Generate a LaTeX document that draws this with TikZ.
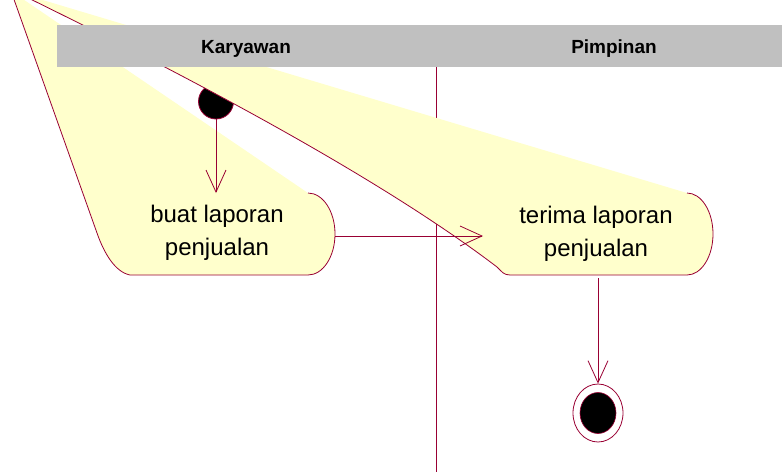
\documentclass[tikz,border=0pt]{standalone}
\usepackage{fontspec}
\setmainfont{Liberation Sans}
\usepackage{tikz}
\usetikzlibrary{arrows.meta}
\definecolor{roseline}{RGB}{153,0,51}
\definecolor{roseyellow}{RGB}{255,255,204}
\definecolor{rosegray}{RGB}{192,192,192}
\tikzset{
    lanetitle/.style={anchor=base,inner sep=0pt,font=\fontsize{19}{19}\selectfont\bfseries},
    acttext/.style={align=center,inner sep=0pt,font=\fontsize{24}{33}\selectfont},
    actfill/.style={fill=roseyellow},
    actline/.style={draw=roseline,line width=0.8pt},
    flow/.style={draw=roseline,line width=0.8pt,-{Straight Barb[length=22pt,width=20pt]}},
    startnode/.style={circle,fill=black,draw=roseline,line width=0.8pt,minimum size=35pt,inner sep=0pt},
    endouter/.style={ellipse,fill=white,draw=roseline,line width=0.8pt,minimum width=50pt,minimum height=58pt,inner sep=0pt},
    endinner/.style={ellipse,fill=black,draw=roseline,line width=0.6pt,minimum width=36pt,minimum height=41pt,inner sep=0pt}
}
\usetikzlibrary{shapes.geometric}

\begin{document}
\begin{tikzpicture}[x=1pt,y=-1pt]
    \useasboundingbox (0,0) rectangle (782,475);

    % swimlane divider
    \draw[roseline,line width=0.8pt] (436,67) -- (436,472);

    % activity: buat laporan (the odd corner comes from the source drawing)
    \fill[actfill] (11,-9) -- (97,233) .. controls (104,253) and (115,272) .. (130,275)
        -- (308,275) arc[start angle=90,end angle=-90,x radius=27,y radius=41] -- cycle;
    \draw[actline] (11,-9) -- (97,233) .. controls (104,253) and (115,272) .. (130,275)
        -- (308,275) arc[start angle=90,end angle=-90,x radius=27,y radius=41];

    \node[startnode] (start) at (216,101.5) {};

    % activity: terima laporan
    \fill[actfill] (16,-8) .. controls (239,101) and (400,193) .. (497,267)
        .. controls (502,272) and (504,275) .. (510,275)
        -- (687,275) arc[start angle=90,end angle=-90,x radius=26,y radius=41] -- cycle;
    \draw[actline] (16,-8) .. controls (239,101) and (400,193) .. (497,267)
        .. controls (502,272) and (504,275) .. (510,275)
        -- (687,275) arc[start angle=90,end angle=-90,x radius=26,y radius=41];

    % lane headers
    \fill[rosegray] (57,25) rectangle (436,67);
    \fill[rosegray] (436,25) rectangle (782,67);
    \node[lanetitle] (karyawan) at (246,53) {Karyawan};
    \node[lanetitle] (pimpinan) at (614,53) {Pimpinan};

    \node[acttext] (buat) at (217,233) {buat laporan\\penjualan};
    \node[acttext] (terima) at (596,233.5) {terima laporan\\penjualan};

    \coordinate (buattop) at (216,193);
    \coordinate (buatright) at (335,236);
    \coordinate (terimaleft) at (483,236);
    \coordinate (terimabot) at (598,278);

    \node[endouter] (end) at (598,413) {};
    \node[endinner] (endcore) at (end.center) {};

    \draw[flow] (start.south) -- (buattop);
    \draw[flow] (buatright) -- (terimaleft);
    \draw[flow] (terimabot) -- (end.north);
\end{tikzpicture}
\end{document}
